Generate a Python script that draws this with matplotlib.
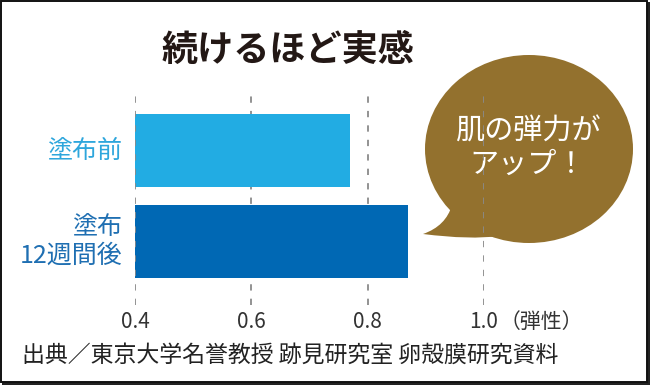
import matplotlib
matplotlib.use("Agg")
import matplotlib.pyplot as plt
from matplotlib.patches import Rectangle, PathPatch, Ellipse
from matplotlib.path import Path

plt.rcParams['font.family'] = ['Noto Sans CJK JP', 'DejaVu Sans']

categories = ["塗布前", "塗布\n12週間後"]
values = [0.77, 0.87]
bar_colors = ["#22ace3", "#0068b4"]
label_colors = ["#2ea6dc", "#1f6fb2"]
ticks = [0.4, 0.6, 0.8, 1.0]
tick_labels = ["0.4", "0.6", "0.8", "1.0"]
unit_label = "（弾性）"
title = "続けるほど実感"
bubble_lines = "肌の弾力が\nアップ！"
source = "出典／東京大学名誉教授 跡見研究室 卵殻膜研究資料"

W, H = 650, 385
fig = plt.figure(figsize=(W / 100, H / 100), dpi=100)
fig.patch.set_facecolor("white")

# overlay in pixel coordinates for decorations
ov = fig.add_axes([0, 0, 1, 1], zorder=0)
ov.set_xlim(0, W)
ov.set_ylim(H, 0)
ov.axis("off")

# frame with shadow
ov.add_patch(Rectangle((2, 2), W - 2.5, H - 2.5, facecolor="#222", edgecolor="none", zorder=0))
ov.add_patch(Rectangle((1, 1), W - 4, H - 4, facecolor="white", edgecolor="#111", lw=1.4, zorder=1))

# chart axes
x0, x1 = 135, 484
ytop, ybot = 96, 305
ax = fig.add_axes([x0 / W, 1 - ybot / H, (x1 - x0) / W, (ybot - ytop) / H], zorder=2)
ax.patch.set_alpha(0)
ypos = [1, 0]
ax.barh(ypos, [v - ticks[0] for v in values], left=ticks[0], height=0.8,
        color=bar_colors, zorder=2)
for t in ticks:
    ax.axvline(t, color="#8a8a8a", lw=1.3, ls=(0, (3.5, 4.5)),
               zorder=3 if t == ticks[0] else 1)
ax.set_xlim(ticks[0], ticks[-1])
ax.set_ylim(-0.698, 1.599)
for s in ax.spines.values():
    s.set_visible(False)
ax.set_xticks([])
ax.set_yticks([])

# tick labels
for t, lab in zip(ticks, tick_labels):
    ax.annotate(lab, xy=(t, 0), xycoords=("data", "axes fraction"),
                xytext=(0, -12), textcoords="offset points",
                ha="center", va="center", fontsize=15, color="#333")
ax.annotate(unit_label, xy=(ticks[-1], 0), xycoords=("data", "axes fraction"),
            xytext=(11, -12), textcoords="offset points",
            ha="left", va="center", fontsize=15, color="#333")

# category labels
for y, cat, c in zip(ypos, categories, label_colors):
    ax.annotate(cat, xy=(ticks[0], y), xycoords="data",
                xytext=(-9, 0), textcoords="offset points",
                ha="right", va="center", fontsize=18, color=c,
                linespacing=1.1, multialignment="right")

# title
ov.text(288, 50, title, ha="center", va="center", fontsize=26,
        fontweight="bold", color="#231815", zorder=5)

# speech bubble
bub = "#93712e"
ov.add_patch(Ellipse((529, 149), 208, 188, facecolor=bub, edgecolor="none", zorder=3))
tail = Path([(452, 205), (446, 226), (423, 234), (470, 240), (500, 236), (452, 205)],
            [Path.MOVETO, Path.CURVE3, Path.CURVE3, Path.CURVE3, Path.CURVE3, Path.CLOSEPOLY])
ov.add_patch(PathPatch(tail, facecolor=bub, edgecolor="none", zorder=3))
ov.text(528, 148, bubble_lines, ha="center", va="center", fontsize=21,
        color="white", linespacing=1.15, zorder=4)

# source
ov.text(22, 355, source, ha="left", va="center", fontsize=16.5, color="#222", zorder=5)

fig.savefig("out.png", dpi=100)
